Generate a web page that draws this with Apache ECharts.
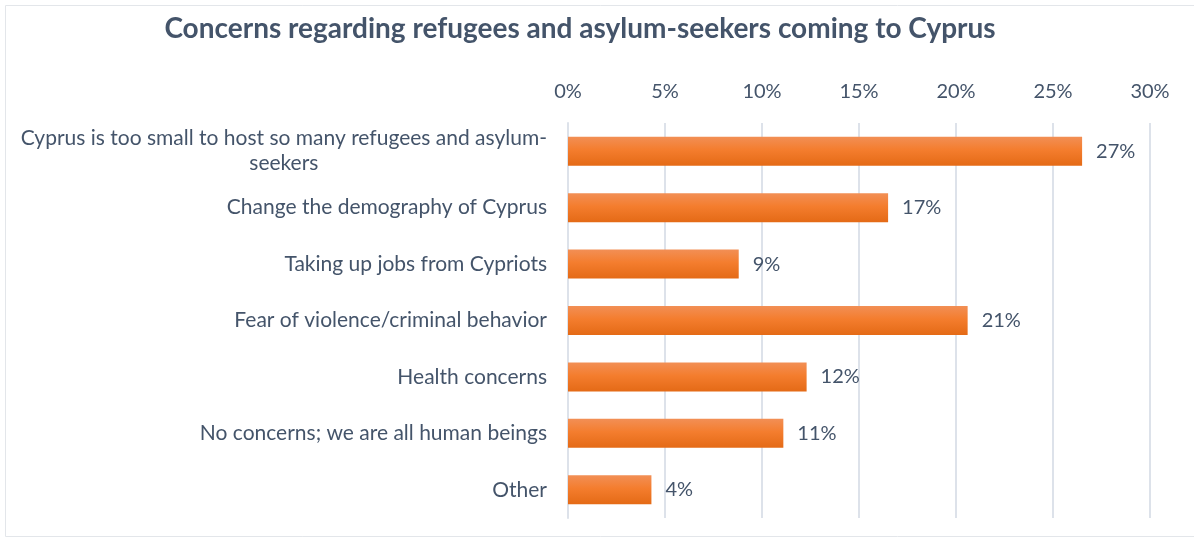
<!DOCTYPE html>
<html>
<head>
<meta charset="utf-8">
<script src="https://cdn.jsdelivr.net/npm/echarts@6/dist/echarts.min.js"></script>
<style>
  html, body { margin: 0; padding: 0; background: #ffffff; }
  #chart { width: 1194px; height: 539px; }
</style>
</head>
<body>
<div id="chart"></div>
<script>
// Share of respondents naming each concern (%)
const categories = [
  'Cyprus is too small to host so many refugees and asylum-seekers',
  'Change the demography of Cyprus',
  'Taking up jobs from Cypriots',
  'Fear of violence/criminal behavior',
  'Health concerns',
  'No concerns; we are all human beings',
  'Other'
];
const shares = [26.5, 16.5, 8.8, 20.6, 12.3, 11.1, 4.3];
const axisTicks = [0, 5, 10, 15, 20, 25, 30];

const TEXT = '#44546a';
const FONT = 'Lato';

const chart = echarts.init(document.getElementById('chart'), null, { renderer: 'canvas' });

chart.setOption({
  backgroundColor: '#ffffff',
  animation: false,
  title: {
    text: 'Concerns regarding refugees and asylum-seekers coming to Cyprus',
    left: 575,
    textAlign: 'center',
    top: 10,
    textStyle: { color: TEXT, fontFamily: FONT, fontWeight: 'bold', fontSize: 28 }
  },
  graphic: [{
    type: 'rect',
    shape: { x: 5.5, y: 5.5, width: 1200, height: 531 },
    style: { fill: 'none', stroke: '#e3e6ea', lineWidth: 1 },
    silent: true
  }],
  grid: { left: 568, right: 44, top: 123, bottom: 21, containLabel: false },
  xAxis: {
    type: 'value',
    position: 'top',
    min: axisTicks[0],
    max: axisTicks[axisTicks.length - 1],
    interval: axisTicks[1] - axisTicks[0],
    axisLine: { show: false },
    axisTick: { show: false },
    splitLine: { show: true, lineStyle: { color: '#dde2ea', width: 2 } },
    axisLabel: {
      color: TEXT, fontFamily: FONT, fontSize: 20, margin: 21,
      formatter: v => v + '%'
    }
  },
  yAxis: {
    type: 'category',
    inverse: true,
    data: categories,
    axisLine: { show: true, lineStyle: { color: '#dde2ea', width: 2 } },
    axisTick: { show: false },
    axisLabel: {
      color: TEXT, fontFamily: FONT, fontSize: 21, margin: 21, lineHeight: 25,
      formatter: v => v.replace('asylum-', 'asylum-\n').split('\n').map(s => '{c|' + s + '}').join('\n'),
      rich: { c: { align: 'center', color: TEXT, fontFamily: FONT, fontSize: 21, lineHeight: 25 } }
    }
  },
  series: [{
    type: 'bar',
    data: shares,
    barWidth: 29,
    itemStyle: {
      color: new echarts.graphic.LinearGradient(0, 0, 0, 1, [
        { offset: 0, color: '#f28f55' },
        { offset: 0.45, color: '#f47d2e' },
        { offset: 1, color: '#e46a16' }
      ])
    },
    label: {
      show: true,
      position: 'right',
      distance: 14,
      color: TEXT, fontFamily: FONT, fontSize: 20,
      formatter: p => Math.round(p.value) + '%'
    }
  }]
});
</script>
</body>
</html>
